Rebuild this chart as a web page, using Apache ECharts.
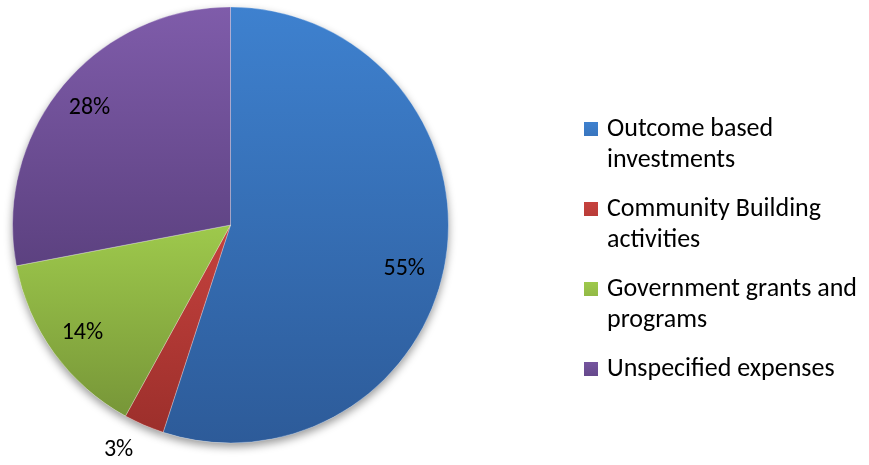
<!DOCTYPE html>
<html>
<head>
<meta charset="utf-8">
<script src="https://cdn.jsdelivr.net/npm/echarts@6/dist/echarts.min.js"></script>
<style>
  html, body { margin: 0; padding: 0; background: #ffffff; }
  #chart { width: 869px; height: 465px; }
</style>
</head>
<body>
<div id="chart"></div>
<script>
// Spending breakdown (share of total, %)
const categories = [
  'Outcome based investments',
  'Community Building activities',
  'Government grants and programs',
  'Unspecified expenses'
];
const values = [55, 3, 14, 28];
const legendLabels = [
  'Outcome based\ninvestments',
  'Community Building\nactivities',
  'Government grants and\nprograms',
  'Unspecified expenses'
];

// Slice fills: light at the top of each slice, darker toward the bottom
const sliceTop = ['#3e81cf', '#c6423e', '#9ec94c', '#7f5caa'];
const sliceBottom = ['#2d5b99', '#9c2f2b', '#779638', '#5c4180'];

const FONT = 'Carlito, Lato, sans-serif';
const CENTER = [230.5, 225];
const R = 218;

function fill(i) {
  return new echarts.graphic.LinearGradient(0, 0, 0, 1, [
    { offset: 0, color: sliceTop[i] },
    { offset: 1, color: sliceBottom[i] }
  ]);
}

// Legend swatch: a square aligned with the first line of its (possibly wrapped) label
const ICON_TWO_LINE = 'path://M0,0h14v14h-14z M18,45';
const ICON_ONE_LINE = 'path://M0,0 M0,8.5h14v14h-14z M18,31';

const mainData = categories.map((name, i) => ({
  name,
  value: values[i],
  itemStyle: { color: fill(i) }
}));

const labelData = categories.map((name, i) => {
  const d = { name, value: values[i] };
  if (values[i] < 5) {
    // small slice: label sits just outside the rim
    d.label = { position: 'outside', distanceToLabelLine: 0 };
    d.labelLine = { show: false, length: 27, length2: 0 };
  } else if (values[i] > 50) {
    // large slice: label pulled a little lower along the rim
    d.label = { offset: [-7, 15] };
  }
  return d;
});

const chart = echarts.init(document.getElementById('chart'), null, { renderer: 'canvas' });
chart.setOption({
  animation: false,
  backgroundColor: '#ffffff',
  legend: {
    orient: 'vertical',
    left: 584,
    top: 113.5,
    padding: 0,
    itemGap: 18,
    itemWidth: 18,
    itemHeight: 45,
    selectedMode: false,
    symbolKeepAspect: true,
    itemStyle: { borderWidth: 0 },
    textStyle: { fontFamily: FONT, fontSize: 26, color: '#000000', lineHeight: 31 },
    formatter: name => legendLabels[categories.indexOf(name)],
    data: categories.map((name, i) => ({
      name,
      icon: legendLabels[i].indexOf('\n') >= 0 ? ICON_TWO_LINE : ICON_ONE_LINE
    }))
  },
  series: [
    {
      // filled slices
      type: 'pie',
      z: 2,
      center: CENTER,
      radius: [0, R],
      startAngle: 90,
      clockwise: true,
      avoidLabelOverlap: false,
      silent: true,
      label: { show: false },
      labelLine: { show: false },
      itemStyle: { borderColor: 'rgba(255,255,255,0.45)', borderWidth: 0.6 },
      emphasis: { disabled: true },
      data: mainData
    },
    {
      // soft drop shadow under the pie
      type: 'pie',
      z: 1,
      center: CENTER,
      radius: [0, R],
      startAngle: 90,
      clockwise: true,
      silent: true,
      label: { show: false },
      labelLine: { show: false },
      itemStyle: {
        color: '#ffffff',
        borderWidth: 0,
        shadowColor: 'rgba(0,0,0,0.4)',
        shadowBlur: 9,
        shadowOffsetY: 4
      },
      emphasis: { disabled: true },
      data: categories.map((name, i) => ({ name, value: values[i] }))
    },
    {
      // percentage labels, placed in an outer ring
      type: 'pie',
      z: 3,
      center: CENTER,
      radius: [142, R],
      startAngle: 90,
      clockwise: true,
      silent: true,
      avoidLabelOverlap: false,
      itemStyle: { color: 'rgba(0,0,0,0)', borderWidth: 0 },
      label: {
        show: true,
        position: 'inside',
        formatter: p => p.value + '%',
        fontFamily: FONT,
        fontSize: 24,
        color: '#000000'
      },
      labelLine: { show: false },
      emphasis: { disabled: true },
      data: labelData
    }
  ]
});
</script>
</body>
</html>
